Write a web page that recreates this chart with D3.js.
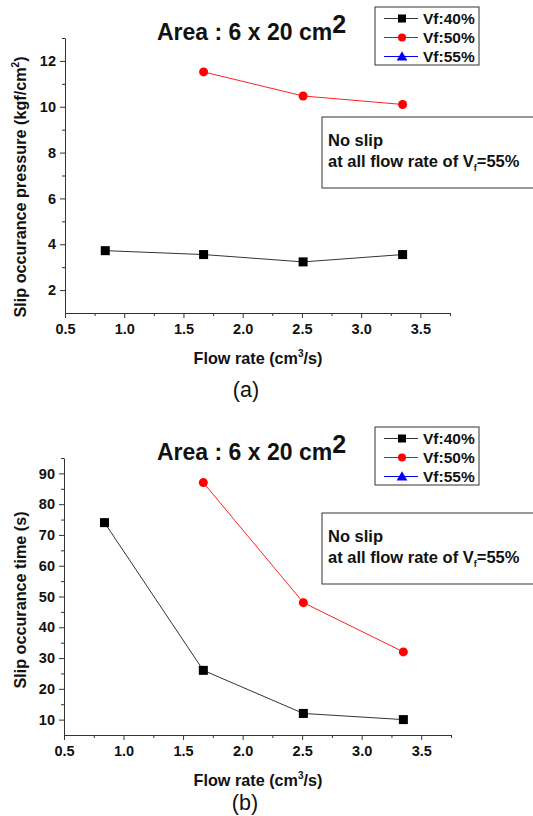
<!DOCTYPE html>
<html>
<head>
<meta charset="utf-8">
<title>Slip occurance</title>
<script src="https://cdnjs.cloudflare.com/ajax/libs/d3/7.8.5/d3.min.js"></script>
<style>
  body { margin: 0; background: #fff; }
  svg { font-family: Arial, "Liberation Sans", sans-serif; }
  .tick text { font-weight: bold; font-size: 14.5px; fill: #111; }
  .domain, .tick line { stroke: #333; }
</style>
</head>
<body>
<svg id="fig" width="533" height="816"></svg>
<script>
// data
var flowRate = [0.84, 1.67, 2.51, 3.35];
var flowRate50 = [1.67, 2.51, 3.35];
var pressure40 = [3.72, 3.55, 3.23, 3.55];
var pressure50 = [11.52, 10.47, 10.1];
var time40 = [74, 26, 12, 10];
var time50 = [87, 48, 32];
var seriesNames = ["Vf:40%", "Vf:50%", "Vf:55%"];
var seriesColors = ["#000", "#ff0000", "#0000ff"];
var xTicks = [0.5, 1.0, 1.5, 2.0, 2.5, 3.0, 3.5];
var pressureTicks = [2, 4, 6, 8, 10, 12];
var timeTicks = [10, 20, 30, 40, 50, 60, 70, 80, 90];

var svg = d3.select("#fig");

function panel(opt) {
  var g = svg.append("g");
  var x = d3.scaleLinear().domain([0.5, 3.75]).range([opt.left, opt.right]);
  var y = d3.scaleLinear().domain(opt.yDomain).range([opt.bottom, opt.top]);

  // minor ticks
  g.append("g").attr("transform", "translate(0," + opt.bottom + ")")
    .call(d3.axisBottom(x).tickValues(d3.range(0.75, 3.76, 0.5)).tickSize(3).tickFormat(""))
    .call(s => s.select(".domain").remove());
  g.append("g").attr("transform", "translate(" + opt.left + ",0)")
    .call(d3.axisLeft(y).tickValues(opt.minor).tickSize(3).tickFormat(""))
    .call(s => s.select(".domain").remove());

  g.append("g").attr("transform", "translate(0," + opt.bottom + ")")
    .call(d3.axisBottom(x).tickValues(xTicks).tickSize(5).tickSizeOuter(0).tickPadding(6).tickFormat(d3.format(".1f")));
  g.append("g").attr("transform", "translate(" + opt.left + ",0)")
    .call(d3.axisLeft(y).tickValues(opt.yTicks).tickSize(5).tickSizeOuter(0).tickPadding(4));

  var line = d3.line().x(d => x(d[0])).y(d => y(d[1]));
  var s40 = d3.zip(flowRate, opt.v40), s50 = d3.zip(flowRate50, opt.v50);
  g.append("path").datum(s40).attr("d", line).attr("fill", "none").attr("stroke", "#333").attr("stroke-width", 1);
  g.append("path").datum(s50).attr("d", line).attr("fill", "none").attr("stroke", "#ff2020").attr("stroke-width", 1);
  g.selectAll(".sq").data(s40).join("rect")
    .attr("x", d => x(d[0]) - 4.5).attr("y", d => y(d[1]) - 4.5)
    .attr("width", 9).attr("height", 9).attr("fill", "#000");
  g.selectAll(".ci").data(s50).join("circle")
    .attr("cx", d => x(d[0])).attr("cy", d => y(d[1])).attr("r", 4.5).attr("fill", "#ff0000");

  // title
  var t = g.append("text").attr("x", 157).attr("y", opt.titleY)
    .attr("font-size", 23).attr("font-weight", "bold").attr("fill", "#111");
  t.append("tspan").text("Area : 6 x 20 cm");
  t.append("tspan").attr("dy", -7).attr("font-size", 25).text("2");

  // legend
  g.append("rect").attr("x", 375).attr("y", opt.legY).attr("width", 104).attr("height", 58)
    .attr("fill", "#fff").attr("stroke", "#333");
  seriesNames.forEach(function (n, i) {
    var ly = opt.legY + 11.5 + i * 19;
    g.append("line").attr("x1", 384).attr("x2", 418).attr("y1", ly).attr("y2", ly)
      .attr("stroke", i == 0 ? "#333" : seriesColors[i]);
    if (i == 0) g.append("rect").attr("x", 398).attr("y", ly - 4).attr("width", 8).attr("height", 8).attr("fill", "#000");
    if (i == 1) g.append("circle").attr("cx", 402).attr("cy", ly).attr("r", 4).attr("fill", seriesColors[1]);
    if (i == 2) g.append("path").attr("d", d3.symbol(d3.symbolTriangle, 50)()).attr("transform", "translate(402," + (ly + 1) + ")").attr("fill", seriesColors[2]);
    g.append("text").attr("x", 423).attr("y", ly + 5.5).attr("font-size", 15.5).attr("font-weight", "bold")
      .attr("fill", "#111").text(n);
  });

  // note
  g.append("rect").attr("x", 322).attr("y", opt.noteY).attr("width", 230).attr("height", 71)
    .attr("fill", "#fff").attr("stroke", "#333");
  g.append("text").attr("x", 328).attr("y", opt.noteY + 29).attr("font-size", 16.5).attr("font-weight", "bold")
    .attr("fill", "#111").text("No slip");
  var nt = g.append("text").attr("x", 328).attr("y", opt.noteY + 50).attr("font-size", 16.5).attr("font-weight", "bold").attr("fill", "#111");
  nt.append("tspan").text("at all flow rate of V");
  nt.append("tspan").attr("dy", 4).attr("font-size", 9).text("f");
  nt.append("tspan").attr("dy", -4).text("=55%");

  // axis labels
  var xl = g.append("text").attr("x", 258).attr("y", opt.bottom + 51).attr("text-anchor", "middle")
    .attr("font-size", 16.2).attr("font-weight", "bold").attr("fill", "#111");
  xl.append("tspan").text("Flow rate (cm");
  xl.append("tspan").attr("dy", -7).attr("font-size", 10).text("3");
  xl.append("tspan").attr("dy", 7).text("/s)");

  var yl = g.append("text").attr("transform", "translate(26," + opt.yLabelC + ") rotate(-90)")
    .attr("text-anchor", "middle").attr("font-size", 16.2).attr("font-weight", "bold").attr("fill", "#111");
  opt.yLabel.forEach(function (p) {
    var ts = yl.append("tspan").text(p[0]);
    if (p[1]) ts.attr("dy", p[1]).attr("font-size", p[1] < 0 ? 10 : null);
  });

  g.append("text").attr("x", opt.capX).attr("y", opt.capY).attr("text-anchor", "middle")
    .attr("font-size", 21.5).attr("fill", "#111").text(opt.caption);
}

panel({
  left: 65, right: 450, top: 38, bottom: 313, yDomain: [1, 13],
  yTicks: pressureTicks, minor: [3, 5, 7, 9, 11, 13],
  v40: pressure40, v50: pressure50,
  titleY: 40, legY: 7, noteY: 117,
  yLabel: [["Slip occurance pressure (kgf/cm"], ["2", -7], [")", 7]], yLabelC: 187,
  caption: "(a)", capX: 246, capY: 397
});

panel({
  left: 64, right: 451, top: 458, bottom: 735, yDomain: [5, 95],
  yTicks: timeTicks, minor: d3.range(15, 96, 10),
  v40: time40, v50: time50,
  titleY: 460, legY: 427, noteY: 513,
  yLabel: [["Slip occurance time (s)"]], yLabelC: 600,
  caption: "(b)", capX: 245, capY: 810
});
</script>
</body>
</html>
